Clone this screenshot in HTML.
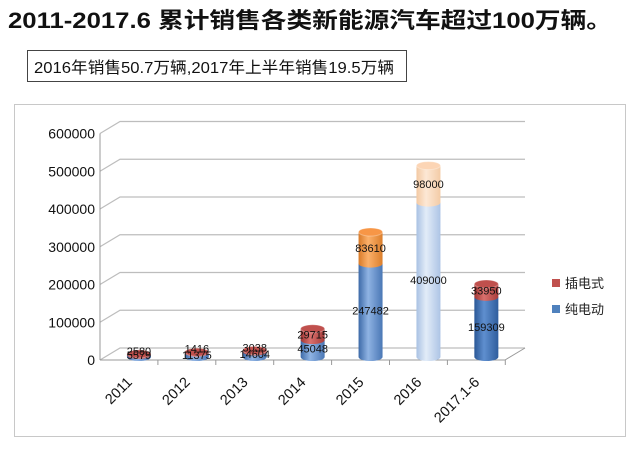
<!DOCTYPE html>
<html><head><meta charset="utf-8"><style>
body{margin:0;width:640px;height:447px;background:#fff;overflow:hidden;font-family:"Liberation Sans","Noto Sans CJK SC",sans-serif}
</style></head><body>
<svg width="640" height="447" xmlns="http://www.w3.org/2000/svg">
<defs>
<linearGradient id="gb" x1="0" x2="1"><stop offset="0" stop-color="#3d6aa8"/><stop offset="0.4" stop-color="#8fb3e3"/><stop offset="1" stop-color="#4a77b5"/></linearGradient>
<linearGradient id="gr" x1="0" x2="1"><stop offset="0" stop-color="#a03533"/><stop offset="0.4" stop-color="#d9706d"/><stop offset="1" stop-color="#a83c3a"/></linearGradient>
<linearGradient id="go" x1="0" x2="1"><stop offset="0" stop-color="#d87a28"/><stop offset="0.4" stop-color="#fbb06a"/><stop offset="1" stop-color="#dc7f2c"/></linearGradient>
<linearGradient id="glb" x1="0" x2="1"><stop offset="0" stop-color="#a9c1e3"/><stop offset="0.4" stop-color="#e2ecf8"/><stop offset="1" stop-color="#adc4e5"/></linearGradient>
<linearGradient id="gp" x1="0" x2="1"><stop offset="0" stop-color="#f3c9a3"/><stop offset="0.4" stop-color="#fde8d5"/><stop offset="1" stop-color="#f3cba6"/></linearGradient>
<linearGradient id="gdb" x1="0" x2="1"><stop offset="0" stop-color="#2a5796"/><stop offset="0.4" stop-color="#5f8fcf"/><stop offset="1" stop-color="#2f5d9d"/></linearGradient>
</defs>
<text x="8" y="28" font-size="22" font-weight="bold" fill="#111" textLength="604" lengthAdjust="spacingAndGlyphs">2011-2017.6 累计销售各类新能源汽车超过100万辆。</text>
<rect x="27.5" y="50.5" width="379" height="31" fill="#fff" stroke="#444"/>
<text x="34" y="73" font-size="16" fill="#111" textLength="360" lengthAdjust="spacingAndGlyphs">2016年销售50.7万辆,2017年上半年销售19.5万辆</text>
<rect x="14.5" y="104.5" width="611" height="332" fill="none" stroke="#c8c8c8"/>
<g id="axes"></g>
<g id="bars"></g>
<rect x="552" y="279" width="8" height="8" fill="#c0504d"/>
<text x="565" y="288" font-size="13" fill="#222">插电式</text>
<rect x="552" y="305" width="8" height="8" fill="#4f81bd"/>
<text x="565" y="314" font-size="13" fill="#222">纯电动</text>
</svg>
<script>
const categories=["2011","2012","2013","2014","2015","2016","2017.1-6"];
const bev=[5579,11375,14604,45048,247482,409000,159309];
const phev=[2580,1416,3038,29715,83610,98000,33950];
const yTicks=[0,100000,200000,300000,400000,500000,600000];
const NS="http://www.w3.org/2000/svg";
const ax=document.getElementById('axes'),bg=document.getElementById('bars');
const y0=360,pxPer=37.75/100000,x0=100,xStep=57.9,dx=20,dy=-12;
const Y=v=>y0-v*pxPer;
function mk(t,a,p){const e=document.createElementNS(NS,t);for(const k in a)e.setAttribute(k,a[k]);p.appendChild(e);return e;}
yTicks.forEach(v=>{
  const l=mk('path',{d:`M${x0} ${Y(v)} L${x0+dx} ${Y(v)+dy} L${x0+dx+405} ${Y(v)+dy}`,fill:'none',stroke:'#bdbdbd','stroke-width':1.2},ax);
  
  
  const t=mk('text',{x:95,y:Y(v)+5,'font-size':14,'text-anchor':'end',fill:'#111'},ax);
  t.textContent=v;
  
  
});
mk('line',{x1:x0,y1:Y(0),x2:x0,y2:Y(600000),stroke:'#999'},ax);
mk('path',{d:`M${x0} ${y0} L${x0+405} ${y0} L${x0+405+dx} ${y0+dy}`,fill:'none',stroke:'#999'},ax);
categories.forEach((c,i)=>{
  const xc=x0+xStep*i+xStep/2;
  mk('line',{x1:x0+xStep*(i+1),y1:y0,x2:x0+xStep*(i+1),y2:y0+5,stroke:'#999'},ax);
  const t=mk('text',{x:xc+4,y:383,'font-size':14.5,'text-anchor':'end',fill:'#111',transform:`rotate(-45 ${xc+4} 383)`},ax);
  t.textContent=c;
  
  
});
const fills=[["url(#gb)","url(#gr)","#c0504d"],["url(#gb)","url(#gr)","#c0504d"],["url(#gb)","url(#gr)","#c0504d"],["url(#gb)","url(#gr)","#c0504d"],["url(#gb)","url(#go)","#f79646"],["url(#glb)","url(#gp)","#fcd5b5"],["url(#gdb)","url(#gr)","#c0504d"]];
const r=12,ry=4,base=y0-3;
categories.forEach((c,i)=>{
  const cx=x0+xStep*i+xStep/2+10;
  const yb=base-bev[i]*pxPer, yt=yb-phev[i]*pxPer;
  const g=mk('g',{},bg);
  
  
  const b=mk('path',{d:`M${cx-r} ${yb} L${cx-r} ${base} A${r} ${ry} 0 0 0 ${cx+r} ${base} L${cx+r} ${yb} Z`,fill:fills[i][0]},g);
  
  
  const p=mk('path',{d:`M${cx-r} ${yt} L${cx-r} ${yb} A${r} ${ry} 0 0 0 ${cx+r} ${yb} L${cx+r} ${yt} Z`,fill:fills[i][1]},g);
  
  
  mk('ellipse',{cx:cx,cy:yt,rx:r,ry:ry,fill:fills[i][2],stroke:'#fff','stroke-opacity':0.3},g);
  const tb=mk('text',{x:cx,y:Math.min((yb+base)/2+4,base+2),'font-size':11,'text-anchor':'middle',fill:'#111'},g);
  tb.textContent=bev[i];
  
  
  const tp=mk('text',{x:cx,y:Math.min((yt+yb)/2+4,yb),'font-size':11,'text-anchor':'middle',fill:'#111'},g);
  tp.textContent=phev[i];
  
  
});
</script>
</body></html>
